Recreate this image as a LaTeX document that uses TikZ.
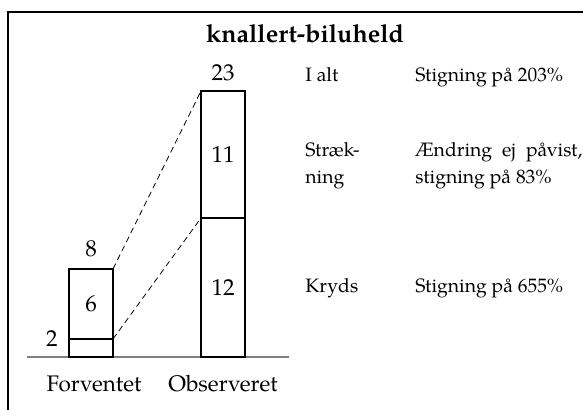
\documentclass[tikz,border=0pt]{standalone}
\usepackage{fontspec}
\setmainfont{TeX Gyre Pagella}
\usetikzlibrary{positioning}
\tikzset{
  seg/.style={draw, line width=1pt, minimum width=22pt, inner sep=0pt, outer sep=0pt},
  lbl/.style={inner sep=0pt},
  txt/.style={inner sep=0pt, anchor=base west, align=left, font=\fontsize{9.7}{13.5}\selectfont},
  link/.style={dash pattern=on 3pt off 2pt, line width=0.4pt},
}
\begin{document}
\begin{tikzpicture}[x=0.5pt,y=-0.5pt,font=\fontsize{11.5}{13.5}\selectfont]%knallert-biluheld
\useasboundingbox (0,0) rectangle (583,410);
\draw[line width=0.8pt] (8,420) -- (8,12) -- (590,12);
\node[lbl,font=\fontsize{12.5}{14}\selectfont\bfseries] (title) at (305,34) {knallert-biluheld};
\draw[gray, line width=0.6pt] (27,357) -- (289,357);
% forventet
\node[seg, minimum height=9pt] (exp2) at (91,348) {};
\node[seg, minimum height=35pt, above=0pt of exp2] (exp6) {6};
\node[lbl, above=6pt of exp6] (n8) {8};
\node[lbl, left=5.5pt of exp2.north west] (n2) {2};
% observeret
\node[seg, minimum height=69.5pt] (obs12) at (223,287.5) {12};
\node[seg, minimum height=63.5pt, above=0pt of obs12] (obs11) {11};
\node[lbl, above=5pt of obs11] (n23) {23};
\draw[link] (exp6.north east) -- (obs11.north west);
\draw[link] (exp2.north east) -- (obs12.north west);
\node[lbl, anchor=base, font=\fontsize{11.25}{13.5}\selectfont] (exp) at (94,392) {Forventet};
\node[lbl, anchor=base, font=\fontsize{11.25}{13.5}\selectfont] (obs) at (223,392) {Observeret};
% tekst
\node[txt] (total) at (305,82) {I alt};
\node[txt] (totaltxt) at (415,82) {Stigning på 203\%};
\node[txt] (link) at (305,184) {Stræk-\\ning};
\node[txt] (linktxt) at (415,184) {\makebox[83.5pt][s]{Ændring ej påvist,}\\stigning på 83\%};
\node[txt] (cross) at (305,293) {Kryds};
\node[txt] (crosstxt) at (415,293) {Stigning på 655\%};
\end{tikzpicture}
\end{document}
